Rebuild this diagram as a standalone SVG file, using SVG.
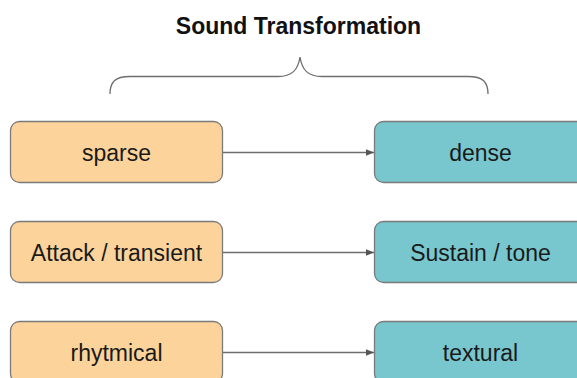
<svg xmlns="http://www.w3.org/2000/svg" width="577" height="378" viewBox="0 0 577 378">
<style>
.box{stroke:#7a7a7a;stroke-width:1.3}
.src{fill:#FCD49B}
.dst{fill:#78C6CE}
.lbl{font-family:"Liberation Sans",Arial,sans-serif;font-size:23px;fill:#1a1a1a;text-anchor:middle}
.title{font-family:"Liberation Sans",Arial,sans-serif;font-size:23px;font-weight:bold;fill:#111;text-anchor:middle}
.conn{stroke:#6e6e6e;stroke-width:1.3;fill:none}
</style>
<defs>
<marker id="arr" viewBox="0 0 10 10" refX="10" refY="5" markerWidth="8" markerHeight="8" markerUnits="userSpaceOnUse" orient="auto">
<path d="M0,1 L10,5 L0,9 Z" fill="#555"/>
</marker>
</defs>
<text class="title" x="298.5" y="33.5">Sound Transformation</text>
<path class="conn" d="M110,94 C110,82 115,76.5 130,76.5 L278,76.5 C292,76.5 298,70 300,57 C302,70 308,76.5 322,76.5 L468,76.5 C483,76.5 488,82 488,94"/>
<g id="connectors">
<line class="conn" x1="222.5" y1="152.5" x2="374" y2="152.5" marker-end="url(#arr)"/>
<line class="conn" x1="222.5" y1="252.5" x2="374" y2="252.5" marker-end="url(#arr)"/>
<line class="conn" x1="222.5" y1="352.5" x2="374" y2="352.5" marker-end="url(#arr)"/>
</g>
<g id="sparse">
<rect class="box src" x="10.5" y="121.5" width="212" height="61" rx="9"/>
<text class="lbl" x="116.5" y="160.5">sparse</text>
</g>
<g id="dense">
<rect class="box dst" x="374.5" y="121.5" width="212" height="61" rx="9"/>
<text class="lbl" x="480.5" y="160.5">dense</text>
</g>
<g id="attack">
<rect class="box src" x="10.5" y="221.5" width="212" height="61" rx="9"/>
<text class="lbl" x="116.5" y="260.5">Attack / transient</text>
</g>
<g id="sustain">
<rect class="box dst" x="374.5" y="221.5" width="212" height="61" rx="9"/>
<text class="lbl" x="480.5" y="260.5">Sustain / tone</text>
</g>
<g id="rhytmical">
<rect class="box src" x="10.5" y="321.5" width="212" height="61" rx="9"/>
<text class="lbl" x="116.5" y="360.5">rhytmical</text>
</g>
<g id="textural">
<rect class="box dst" x="374.5" y="321.5" width="212" height="61" rx="9"/>
<text class="lbl" x="480.5" y="360.5">textural</text>
</g>
</svg>
